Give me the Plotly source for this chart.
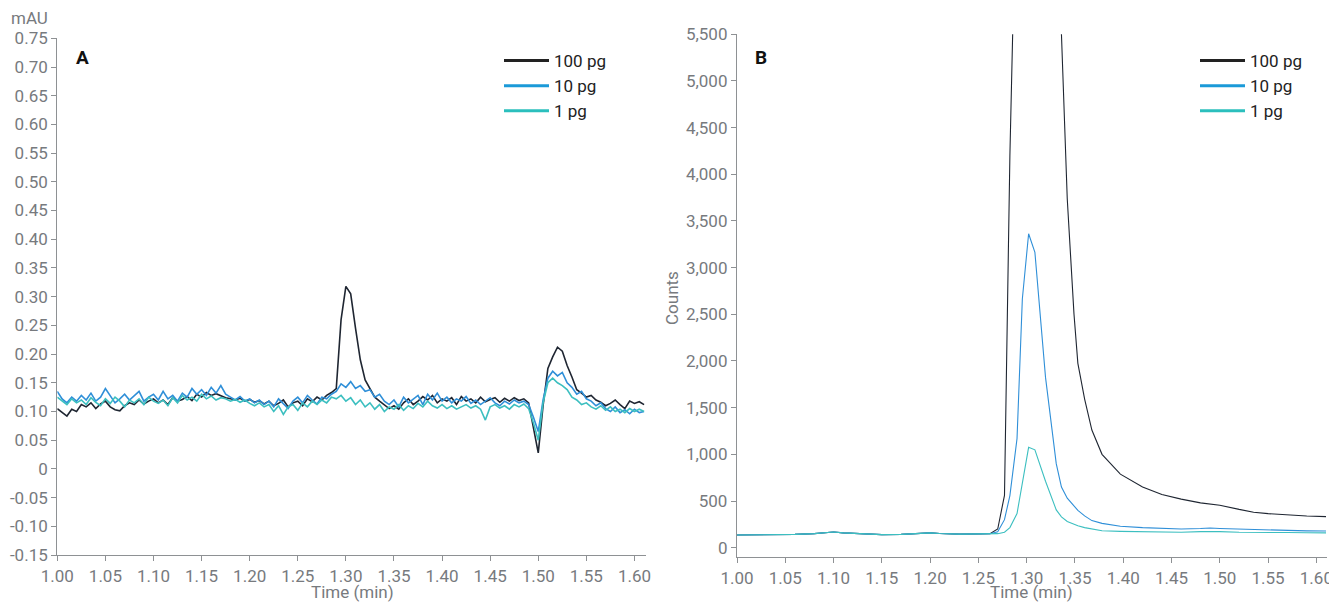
import numpy as np
import plotly.graph_objects as go

# ---------------- Panel A data (mAU) ----------------
a_start, a_step = 1.000, 0.005
a_100pg = [0.105, 0.098, 0.092, 0.104, 0.100, 0.112, 0.108, 0.115, 0.105, 0.113,
           0.118, 0.108, 0.103, 0.101, 0.110, 0.115, 0.112, 0.120, 0.113, 0.118,
           0.122, 0.115, 0.120, 0.112, 0.124, 0.118, 0.121, 0.126, 0.119, 0.130,
           0.125, 0.133, 0.128, 0.131, 0.127, 0.124, 0.122, 0.120, 0.123, 0.118,
           0.121, 0.116, 0.119, 0.113, 0.118, 0.110, 0.114, 0.120, 0.108, 0.115,
           0.118, 0.110, 0.122, 0.117, 0.125, 0.120, 0.128, 0.133, 0.140, 0.260,
           0.318, 0.305, 0.245, 0.190, 0.155, 0.140, 0.125, 0.118, 0.112, 0.105,
           0.110, 0.104, 0.115, 0.122, 0.112, 0.118, 0.126, 0.120, 0.128, 0.115,
           0.122, 0.118, 0.124, 0.112, 0.126, 0.118, 0.122, 0.115, 0.125, 0.117,
           0.121, 0.124, 0.116, 0.123, 0.118, 0.124, 0.119, 0.122, 0.115, 0.070,
           0.028, 0.110, 0.175, 0.195, 0.212, 0.205, 0.180, 0.160, 0.138, 0.132,
           0.125, 0.128, 0.120, 0.116, 0.110, 0.114, 0.120, 0.112, 0.105, 0.118,
           0.114, 0.117, 0.112]
a_10pg = [0.135, 0.122, 0.115, 0.125, 0.118, 0.128, 0.120, 0.132, 0.118, 0.125,
          0.140, 0.128, 0.115, 0.122, 0.130, 0.120, 0.127, 0.135, 0.118, 0.125,
          0.130, 0.120, 0.135, 0.122, 0.128, 0.118, 0.132, 0.125, 0.140, 0.130,
          0.138, 0.128, 0.142, 0.132, 0.145, 0.130, 0.125, 0.120, 0.126, 0.118,
          0.122, 0.115, 0.120, 0.112, 0.118, 0.108, 0.122, 0.113, 0.105, 0.118,
          0.125, 0.115, 0.128, 0.120, 0.113, 0.125, 0.122, 0.130, 0.135, 0.148,
          0.142, 0.152, 0.140, 0.145, 0.135, 0.138, 0.125, 0.130, 0.118, 0.112,
          0.120, 0.108, 0.125, 0.115, 0.122, 0.128, 0.112, 0.130, 0.120, 0.132,
          0.118, 0.125, 0.115, 0.122, 0.118, 0.126, 0.114, 0.120, 0.112, 0.118,
          0.124, 0.115, 0.110, 0.118, 0.113, 0.120, 0.115, 0.118, 0.112, 0.090,
          0.065, 0.120, 0.158, 0.170, 0.162, 0.168, 0.150, 0.142, 0.130, 0.135,
          0.122, 0.118, 0.110, 0.115, 0.105, 0.100, 0.108, 0.098, 0.103, 0.096,
          0.104, 0.098, 0.100]
a_1pg = [0.125, 0.118, 0.112, 0.122, 0.115, 0.120, 0.112, 0.124, 0.116, 0.110,
         0.122, 0.114, 0.125, 0.118, 0.108, 0.120, 0.115, 0.122, 0.112, 0.125,
         0.118, 0.114, 0.120, 0.110, 0.124, 0.115, 0.128, 0.120, 0.125, 0.118,
         0.130, 0.122, 0.127, 0.120, 0.124, 0.122, 0.118, 0.121, 0.116, 0.120,
         0.114, 0.110, 0.115, 0.108, 0.112, 0.100, 0.110, 0.095, 0.108, 0.112,
         0.102, 0.115, 0.108, 0.118, 0.112, 0.120, 0.115, 0.125, 0.122, 0.128,
         0.118, 0.124, 0.112, 0.120, 0.108, 0.115, 0.104, 0.112, 0.100, 0.108,
         0.104, 0.112, 0.102, 0.110, 0.105, 0.114, 0.108, 0.118, 0.110, 0.106,
         0.112, 0.105, 0.110, 0.104, 0.108, 0.112, 0.106, 0.110, 0.104, 0.085,
         0.108, 0.112, 0.106, 0.110, 0.104, 0.112, 0.108, 0.113, 0.105, 0.080,
         0.050, 0.115, 0.150, 0.158, 0.150, 0.145, 0.138, 0.125, 0.120, 0.112,
         0.115, 0.108, 0.104, 0.110, 0.102, 0.108, 0.100, 0.104, 0.098, 0.105,
         0.100, 0.104, 0.100]
a_time = [round(a_start + a_step * i, 4) for i in range(len(a_100pg))]

# ---------------- Panel B data (Counts) ----------------
b_time = [1.000, 1.020, 1.040, 1.060, 1.080, 1.090, 1.100, 1.110, 1.130, 1.150,
          1.170, 1.190, 1.200, 1.210, 1.230, 1.250, 1.262, 1.270, 1.277, 1.2826,
          1.290, 1.2955, 1.302, 1.3085, 1.3195, 1.3306, 1.336, 1.342, 1.349, 1.353,
          1.360, 1.3675, 1.378, 1.397, 1.420, 1.440, 1.460, 1.480, 1.490, 1.500,
          1.520, 1.535, 1.550, 1.570, 1.590, 1.610]
b_100pg = [135, 136, 140, 142, 150, 160, 168, 158, 145, 140,
           142, 150, 158, 152, 145, 148, 150, 200, 560, 4200,
           9500, 12000, 13000, 12500, 9000, 6500, 5500, 3738, 2500, 1975,
           1592, 1260, 1000, 788, 650, 570, 520, 480, 470, 455,
           410, 380, 365, 350, 340, 333]
b_10pg = [135, 136, 140, 142, 150, 160, 168, 158, 145, 140,
          142, 150, 158, 152, 145, 148, 150, 170, 300, 558,
          1170, 2665, 3363, 3164, 1824, 900, 650, 530, 443, 400,
          340, 290, 260, 230, 215, 205, 200, 205, 210, 205,
          198, 195, 190, 185, 180, 178]
b_1pg = [135, 136, 140, 142, 150, 160, 168, 158, 145, 140,
         142, 150, 158, 152, 145, 148, 150, 150, 165, 215,
         366, 700, 1075, 1048, 711, 405, 330, 280, 251, 235,
         215, 200, 182, 175, 170, 168, 165, 172, 175, 172,
         165, 162, 160, 162, 160, 158]

series_names = ["100 pg", "10 pg", "1 pg"]
colors = ["#1f2632", "#2f8fd8", "#3cbfc0"]
legend_colors = ["#222222", "#1b9ad8", "#2bbfbd"]

a_yticks = [0.75, 0.70, 0.65, 0.60, 0.55, 0.50, 0.45, 0.40, 0.35, 0.30, 0.25,
            0.20, 0.15, 0.10, 0.05, 0, -0.05, -0.10, -0.15]
a_yticktext = ["0.75", "0.70", "0.65", "0.60", "0.55", "0.50", "0.45", "0.40",
               "0.35", "0.30", "0.25", "0.20", "0.15", "0.10", "0.05", "0",
               "-0.05", "-0.10", "-0.15"]
x_ticks = [1.00, 1.05, 1.10, 1.15, 1.20, 1.25, 1.30, 1.35, 1.40, 1.45, 1.50, 1.55, 1.60]

# the page body adds an 8px margin; size the figure to fit the window
OFF = 8
W, H = 1337 - OFF, 603 - OFF
def px_x(p):
    return (p - OFF) / W
def px_y(p):
    return 1 - (p - OFF) / H

FONT = "Roboto, 'Open Sans', sans-serif"
GRAY = "#777a7e"
AXIS = "#8e9194"

fig = go.Figure()
for vals, name, col in zip([a_100pg, a_10pg, a_1pg], series_names, colors):
    fig.add_trace(go.Scatter(x=a_time, y=vals, mode="lines", name=name,
                             line=dict(color=col, width=1.6), showlegend=False,
                             xaxis="x", yaxis="y"))
for vals, name, col in zip([b_100pg, b_10pg, b_1pg], series_names, colors):
    fig.add_trace(go.Scatter(x=b_time, y=vals, mode="lines", name=name,
                             line=dict(color=col, width=1.1), showlegend=False,
                             xaxis="x2", yaxis="y2"))
# legend entries (thicker keys, as in the reference)
for lg, xa, ya in [("legend", "x", "y"), ("legend2", "x2", "y2")]:
    for name, col in zip(series_names, legend_colors):
        fig.add_trace(go.Scatter(x=[None], y=[None], mode="lines", name=name,
                                 line=dict(color=col, width=3), legend=lg,
                                 xaxis=xa, yaxis=ya, hoverinfo="skip"))

axis_common = dict(showgrid=False, zeroline=False, showline=True, linecolor=AXIS,
                   linewidth=1.3, ticks="outside", ticklen=5, tickcolor=AXIS,
                   tickfont=dict(family=FONT, size=17, color=GRAY), automargin=False)

leg_common = dict(xanchor="left", yanchor="top", bgcolor="rgba(0,0,0,0)",
                  font=dict(family=FONT, size=17, color="#222222"),
                  tracegroupgap=0, itemwidth=45)

fig.update_layout(
    width=W, height=H,
    margin=dict(l=0, r=0, t=0, b=0),
    paper_bgcolor="white", plot_bgcolor="white",
    font=dict(family=FONT, size=17, color="#222222"),
    xaxis=dict(domain=[px_x(57.3), px_x(646)], range=[1.0, 1.612],
               tickvals=x_ticks, tickformat=".2f", anchor="y", **axis_common),
    yaxis=dict(domain=[px_y(555), px_y(38.3)], range=[-0.15, 0.75],
               tickvals=a_yticks, ticktext=a_yticktext, anchor="x", **axis_common),
    xaxis2=dict(domain=[px_x(737), px_x(1327)], range=[1.0, 1.611],
                tickvals=x_ticks, tickformat=".2f", anchor="y2", **axis_common),
    yaxis2=dict(domain=[px_y(557), px_y(34.3)], range=[-100, 5500],
                dtick=500, tick0=0, tickformat=",", anchor="x2", **axis_common),
    legend=dict(x=px_x(499), y=px_y(43), **leg_common),
    legend2=dict(x=px_x(1195), y=px_y(43), **leg_common),
    showlegend=True,
)

annots = [
    dict(text="mAU", x=px_x(29), y=px_y(18), xanchor="center", yanchor="middle",
         font=dict(family=FONT, size=17, color=GRAY)),
    dict(text="<b>A</b>", x=px_x(82), y=px_y(57), xanchor="center", yanchor="middle",
         font=dict(family=FONT, size=19, color="#111111")),
    dict(text="<b>B</b>", x=px_x(761), y=px_y(57), xanchor="center", yanchor="middle",
         font=dict(family=FONT, size=19, color="#111111")),
    dict(text="Time (min)", x=px_x(352), y=px_y(592), xanchor="center", yanchor="middle",
         font=dict(family=FONT, size=17, color=GRAY)),
    dict(text="Time (min)", x=px_x(1031), y=px_y(592), xanchor="center", yanchor="middle",
         font=dict(family=FONT, size=17, color=GRAY)),
    dict(text="Counts", x=px_x(672), y=px_y(298), xanchor="center", yanchor="middle",
         textangle=-90, font=dict(family=FONT, size=17, color=GRAY)),
]
for a in annots:
    fig.add_annotation(xref="paper", yref="paper", showarrow=False, **a)

fig.write_html("out.html")
